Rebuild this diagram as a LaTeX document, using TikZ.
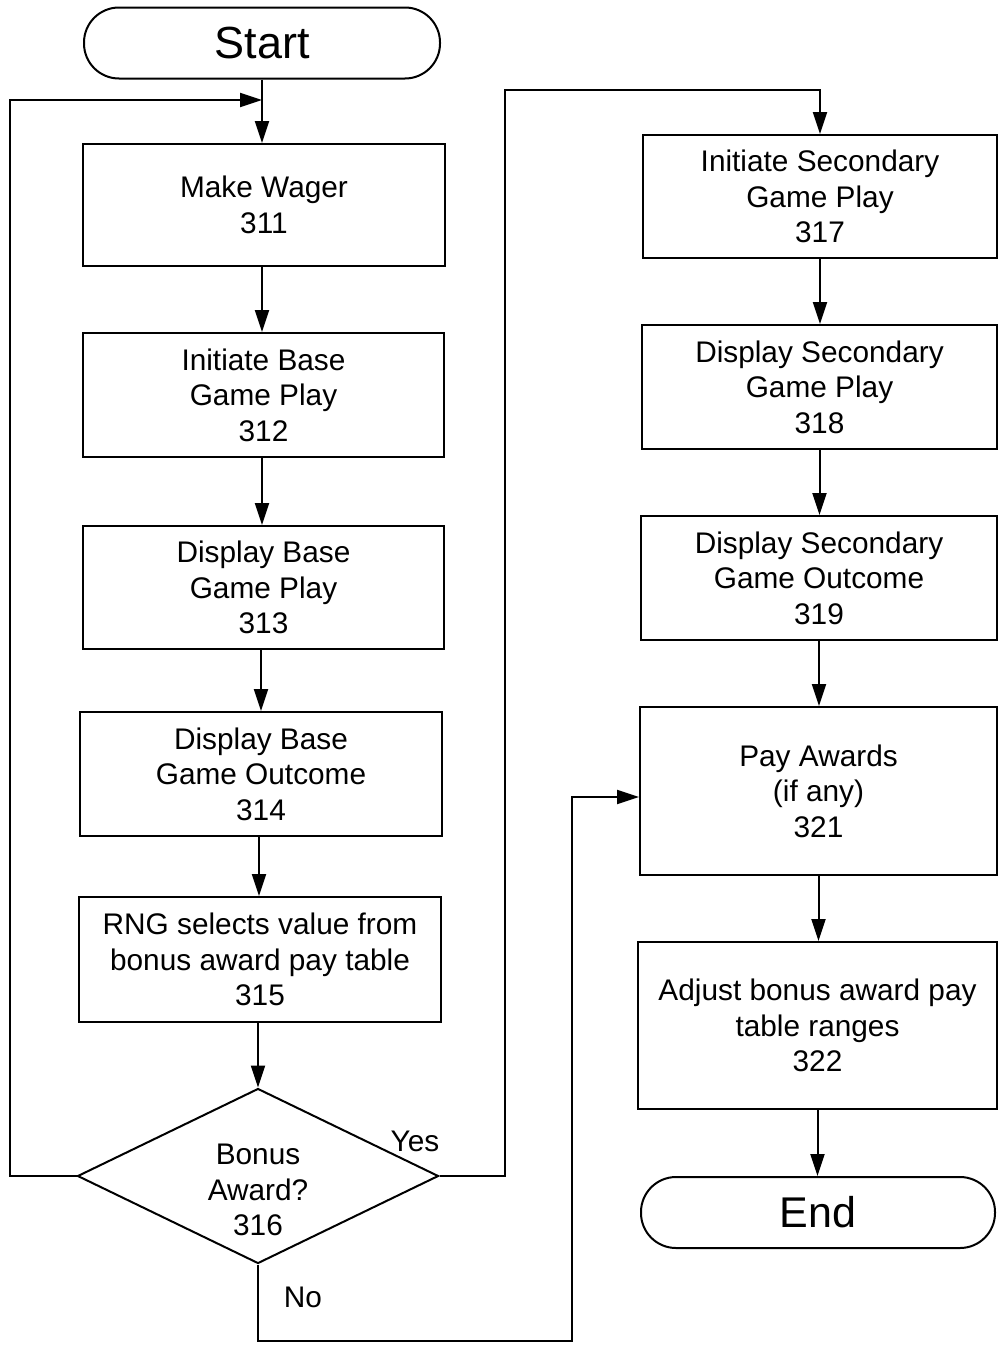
\documentclass[tikz,border=0pt]{standalone}
\usepackage{fontspec}
\setmainfont{Liberation Sans}
\usetikzlibrary{arrows.meta,shapes.geometric}
\begin{document}
\begin{tikzpicture}[x=1pt,y=-1pt,
  line width=2pt,
  >={Triangle[length=22pt,width=14pt]},
  txt/.style={font=\fontsize{29.8}{35.5}\selectfont, align=center, inner sep=0pt},
  box/.style={draw, rectangle, txt},
  term/.style={draw, rectangle, rounded corners=35pt, inner sep=0pt, minimum height=71pt},
  dia/.style={draw, diamond, aspect=2, inner sep=0pt, minimum width=361pt, minimum height=175pt},
  flow/.style={->}]
\useasboundingbox (0,0) rectangle (1000,1349);

% left column
\node[term, minimum width=356pt, font=\fontsize{45}{50}\selectfont] (start) at (262,43) {Start};
\node[box, minimum width=362pt, minimum height=122pt] (n311) at (264,205) {Make Wager\\311};
\node[box, minimum width=361pt, minimum height=124pt] (n312) at (263.5,395) {Initiate Base\\Game Play\\312};
\node[box, minimum width=361pt, minimum height=123pt] (n313) at (263.5,587.5) {Display Base\\Game Play\\313};
\node[box, minimum width=362pt, minimum height=124pt] (n314) at (261,774) {Display Base\\Game Outcome\\314};
\node[box, minimum width=362pt, minimum height=125pt] (n315) at (260,959.5) {RNG selects value from\\bonus award pay table\\315};
\node[dia] (n316) at (258,1176) {};
\node[txt] (t316) at (258,1190) {Bonus\\Award?\\316};

% right column
\node[box, minimum width=354pt, minimum height=123pt] (n317) at (820,196.5) {Initiate Secondary\\Game Play\\317};
\node[box, minimum width=355pt, minimum height=124pt] (n318) at (819.5,387) {Display Secondary\\Game Play\\318};
\node[box, minimum width=356pt, minimum height=124pt] (n319) at (819,578) {Display Secondary\\Game Outcome\\319};
\node[box, minimum width=357pt, minimum height=168pt] (n321) at (818.5,791) {Pay Awards\\(if any)\\321};
\node[box, minimum width=359pt, minimum height=167pt] (n322) at (817.5,1025.5) {Adjust bonus award pay\\table ranges\\322};
\node[term, minimum width=354pt, font=\fontsize{43}{48}\selectfont] (end) at (818,1212.5) {End};

% labels
\node[txt] (yes) at (415,1141) {Yes};
\node[txt] (no) at (303,1297) {No};

% helper coordinates
\coordinate (loopL) at (10,1176);
\coordinate (loopT) at (10,100);
\coordinate (joinT) at (262,100);
\coordinate (yesR) at (505,1176);
\coordinate (yesT) at (505,90);
\coordinate (noB) at (258,1341);
\coordinate (noR) at (572,1341);
\coordinate (noT) at (572,797);

% connectors left
\draw[flow] (start.south) -- (start.south |- n311.north);
\draw[flow] (n311.south -| joinT) -- (joinT |- n312.north);
\draw[flow] (n312.south -| joinT) -- (joinT |- n313.north);
\draw[flow] ([xshift=-1pt]n313.south -| joinT) -- ([xshift=-1pt]joinT |- n314.north);
\draw[flow] (n314.south -| 259,0) -- (259,0 |- n315.north);
\draw[flow] (n315.south -| n316.north) -- (n316.north);
\draw[flow] (n316.west) -- (n316.west -| loopL) -- (loopT) -- (joinT);

% yes branch
\draw[flow] (n316.east) -- (n316.east -| yesR) -- (yesT) -- (yesT -| n317.north) -- (n317.north);

% right connectors
\draw[flow] (n317.south) -- (n317.south |- n318.north);
\draw[flow] (n318.south) -- (n318.south |- n319.north);
\draw[flow] (n319.south) -- (n319.south |- n321.north);
\draw[flow] (n321.south) -- (n321.south |- n322.north);
\draw[flow] (n322.south) -- (n322.south |- end.north);

% no branch
\draw[flow] (n316.south) -- (noB) -- (noR) -- (noT) -- (noT -| n321.west);
\end{tikzpicture}
\end{document}
